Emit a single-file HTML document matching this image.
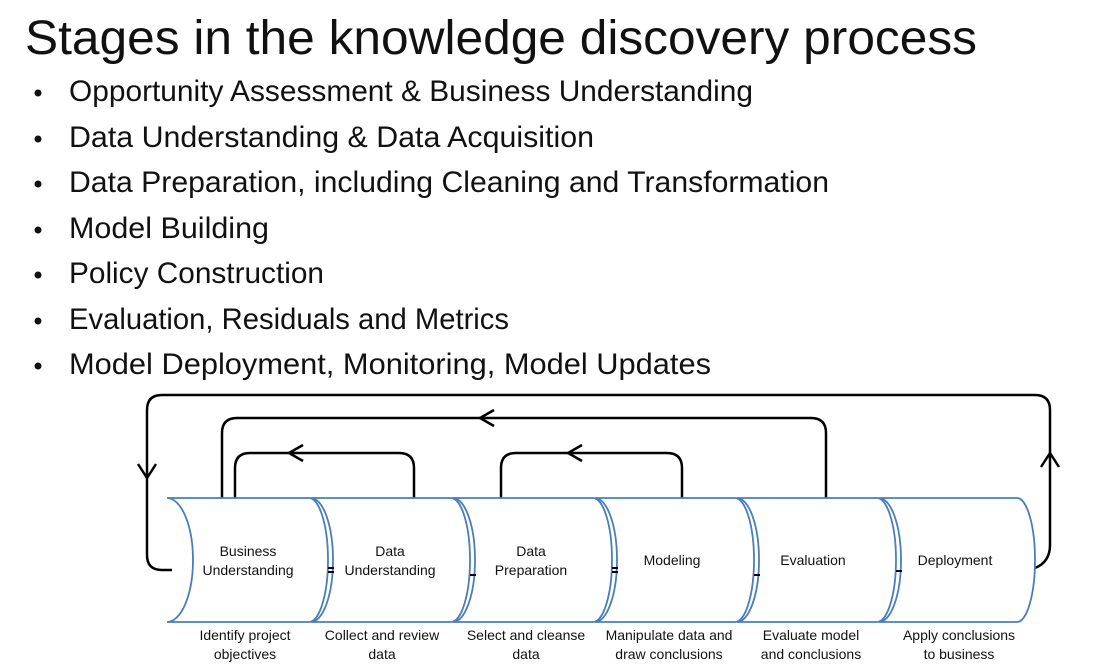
<!DOCTYPE html>
<html><head><meta charset="utf-8"><style>
html,body{margin:0;padding:0;background:#fff;}
svg{display:block;}
text{font-family:"Liberation Sans",sans-serif;fill:#111;}
</style></head><body>
<svg width="1100" height="669" viewBox="0 0 1100 669" xmlns="http://www.w3.org/2000/svg">
<text x="25" y="54" font-size="48" textLength="952" lengthAdjust="spacingAndGlyphs">Stages in the knowledge discovery process</text>
<g font-size="30">
<circle cx="38" cy="93" r="3.5" fill="#111"/><text x="69" y="101" textLength="684" lengthAdjust="spacingAndGlyphs">Opportunity Assessment &amp; Business Understanding</text>
<circle cx="38" cy="139" r="3.5" fill="#111"/><text x="69" y="147" textLength="525" lengthAdjust="spacingAndGlyphs">Data Understanding &amp; Data Acquisition</text>
<circle cx="38" cy="184" r="3.5" fill="#111"/><text x="69" y="192" textLength="760" lengthAdjust="spacingAndGlyphs">Data Preparation, including Cleaning and Transformation</text>
<circle cx="38" cy="230" r="3.5" fill="#111"/><text x="69" y="238" textLength="200" lengthAdjust="spacingAndGlyphs">Model Building</text>
<circle cx="38" cy="275" r="3.5" fill="#111"/><text x="69" y="283" textLength="255" lengthAdjust="spacingAndGlyphs">Policy Construction</text>
<circle cx="38" cy="321" r="3.5" fill="#111"/><text x="69" y="329" textLength="440" lengthAdjust="spacingAndGlyphs">Evaluation, Residuals and Metrics</text>
<circle cx="38" cy="366" r="3.5" fill="#111"/><text x="69" y="374" textLength="642" lengthAdjust="spacingAndGlyphs">Model Deployment, Monitoring, Model Updates</text>
</g>
<g fill="none" stroke="#000" stroke-width="2.5">
<path d="M1035 568 Q1050 562 1050 545 L1050 410 Q1050 395 1035 395 L162 395 Q147 395 147 410 L147 555 Q147 570 162 570 L172 570"/>
<path d="M1041 467 L1050 453 L1059 467"/>
<path d="M138 464 L147 478 L156 464"/>
<path d="M222 498 L222 433 Q222 418 237 418 L811 418 Q826 418 826 433 L826 498"/>
<path d="M494 410 L480 418 L494 426"/>
<path d="M235 498 L235 468 Q235 453 250 453 L399 453 Q414 453 414 468 L414 498"/>
<path d="M303 445 L289 453 L303 461"/>
<path d="M501 498 L501 468 Q501 453 516 453 L667 453 Q682 453 682 468 L682 498"/>
<path d="M582 445 L568 453 L582 461"/>
</g>
<g fill="#fff" stroke="#4a7ebb" stroke-width="1.8">
<path d="M167 498 L309 498 A19 62 0 0 1 309 622 L167 622 A26 62 0 0 0 167 498 Z"/>
<path d="M311 498 L451 498 A19 62 0 0 1 451 622 L311 622 A22 62 0 0 0 311 498 Z"/>
<path d="M453 498 L593 498 A19 62 0 0 1 593 622 L453 622 A22 62 0 0 0 453 498 Z"/>
<path d="M595 498 L735 498 A19 62 0 0 1 735 622 L595 622 A22 62 0 0 0 595 498 Z"/>
<path d="M737 498 L877 498 A19 62 0 0 1 877 622 L737 622 A22 62 0 0 0 737 498 Z"/>
<path d="M879 498 L1017 498 A18 62 0 0 1 1017 622 L879 622 A22 62 0 0 0 879 498 Z"/>
</g>
<g stroke="#000" stroke-width="2">
<path d="M328 568 L334 568 M328 572 L334 572"/>
<path d="M470 575 L476 575"/>
<path d="M612 568 L618 568 M612 572 L618 572"/>
<path d="M754 575 L760 575"/>
<path d="M896 571 L902 571"/>
</g>
<g font-size="14" text-anchor="middle" style="fill:#222">
<text x="248" y="556">Business</text><text x="248" y="575">Understanding</text>
<text x="390" y="556">Data</text><text x="390" y="575">Understanding</text>
<text x="531" y="556">Data</text><text x="531" y="575">Preparation</text>
<text x="672" y="565">Modeling</text>
<text x="813" y="565">Evaluation</text>
<text x="955" y="565">Deployment</text>
<text x="245" y="640">Identify project</text><text x="245" y="659">objectives</text>
<text x="382" y="640">Collect and review</text><text x="382" y="659">data</text>
<text x="526" y="640">Select and cleanse</text><text x="526" y="659">data</text>
<text x="669" y="640">Manipulate data and</text><text x="669" y="659">draw conclusions</text>
<text x="811" y="640">Evaluate model</text><text x="811" y="659">and conclusions</text>
<text x="959" y="640">Apply conclusions</text><text x="959" y="659">to business</text>
</g>
</svg>
</body></html>
